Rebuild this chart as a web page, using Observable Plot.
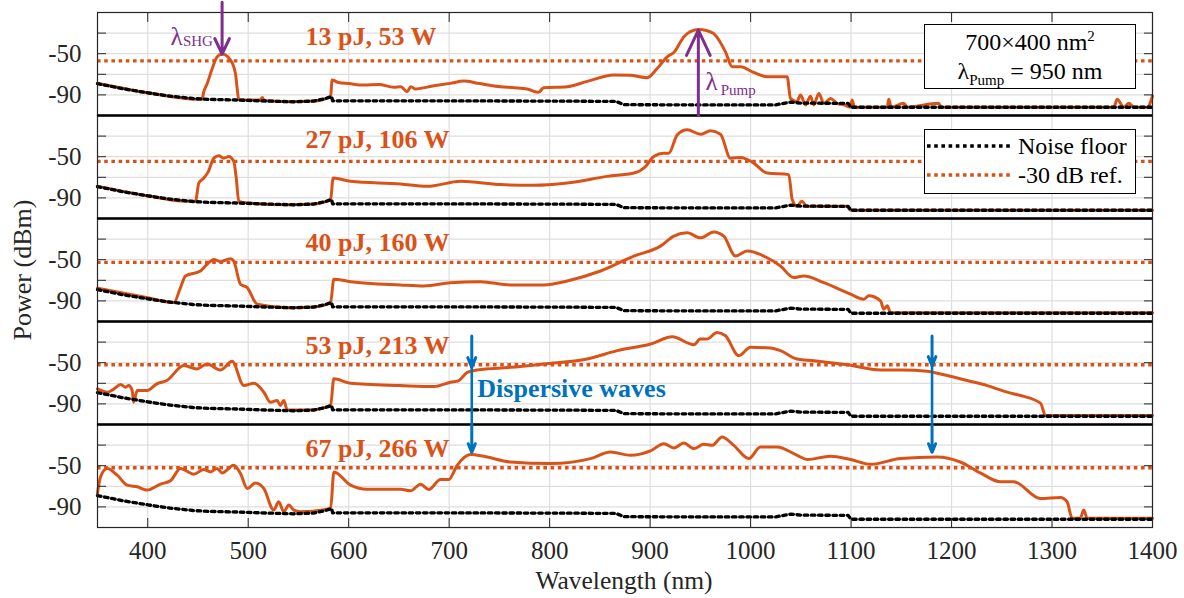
<!DOCTYPE html>
<html><head><meta charset="utf-8">
<script src="https://cdn.jsdelivr.net/npm/d3@7"></script>
<script src="https://cdn.jsdelivr.net/npm/@observablehq/plot@0.6"></script>
<style>
body{margin:0;background:#fff;}
#wrap{position:relative;width:1184px;height:598px;font-family:"Liberation Serif","Times New Roman",serif;color:#262626;overflow:hidden;}
#chart{position:absolute;left:0;top:0;}
.ylab{position:absolute;left:23px;top:270px;transform:translate(-50%,-50%) rotate(-90deg);font-size:26px;white-space:nowrap;}
.xlab{position:absolute;left:624px;top:581px;transform:translate(-50%,-50%);font-size:25.5px;white-space:nowrap;}
.box{position:absolute;left:924px;width:212px;height:65px;border:1.3px solid #000;background:#fff;box-sizing:border-box;font-size:24px;color:#000;}
#box1{top:24px;} #box2{top:129px;}
.row{position:absolute;left:0;right:0;height:28px;line-height:28px;white-space:nowrap;}
.c{text-align:center;}
sup,sub{font-size:15px;line-height:0;}
.sample{position:absolute;left:2px;top:11px;}
.lt{position:absolute;left:93px;top:0;}
</style></head><body>
<div id="wrap">
  <div id="chart"></div>
  <div class="ylab">Power (dBm)</div>
  <div class="xlab">Wavelength (nm)</div>
  <div class="box" id="box1">
    <div class="row c" style="top:3px">700×400 nm<sup>2</sup></div>
    <div class="row c" style="top:32px">λ<sub>Pump</sub> = 950 nm</div>
  </div>
  <div class="box" id="box2">
    <div class="row" style="top:2px"><svg class="sample" width="84" height="6"><line x1="0" x2="84" y1="3" y2="3" stroke="#000" stroke-width="3.3" stroke-dasharray="3.6 3.6"/></svg><span class="lt">Noise floor</span></div>
    <div class="row" style="top:31px"><svg class="sample" width="84" height="6"><line x1="0" x2="84" y1="3" y2="3" stroke="#D95319" stroke-width="3.3" stroke-dasharray="3.6 3.6"/></svg><span class="lt">-30 dB ref.</span></div>
  </div>
</div>
<script>
// ---- data ----
const panels = [0, 1, 2, 3, 4];
const panelLabels = ["13 pJ, 53 W", "27 pJ, 106 W", "40 pJ, 160 W", "53 pJ, 213 W", "67 pJ, 266 W"];
const refLevels = [-57, -54.6, -52.5, -52, -52];
const xTicks = [400, 500, 600, 700, 800, 900, 1000, 1100, 1200, 1300, 1400];
const yLabelTicks = [-90, -50];
const yTicks = [-90, -70, -50, -30];

const noiseNm = [350, 375, 400, 425, 445, 460, 490, 520, 545, 565, 575, 583, 584, 620, 700, 800, 866, 874, 950, 1025, 1040, 1050, 1097, 1100, 1400];
const noiseDb = [-79, -84, -88, -91.5, -93.5, -94.3, -95, -96, -96.7, -96, -94, -91.7, -95.8, -95.8, -95.8, -96, -96.3, -99.5, -99.7, -99.7, -97, -98, -98.2, -102, -102];

const s1Nm = [350, 400, 437, 454, 455.8, 459.2, 464.2, 469.1, 474.1, 482.4, 487.3, 489, 490.6, 500, 512, 514, 516, 540, 565, 582, 583.5, 590, 600, 615, 630, 645, 652, 658, 662, 666.5, 680, 701, 714.6, 730, 751, 765, 777.6, 789, 794, 817.5, 837.4, 863.8, 880, 897, 907, 917, 923.6, 933.5, 940, 948.4, 956, 963.4, 975, 981.7, 990, 1003, 1016.5, 1036.4, 1039.7, 1046, 1049.7, 1054.6, 1059.6, 1062.9, 1067.9, 1073, 1079.5, 1086, 1092.7, 1099.4, 1101, 1103.4, 1136, 1137.5, 1140, 1152.4, 1156, 1187, 1190, 1361.5, 1364.8, 1371.5, 1376.5, 1381.5, 1394.7, 1400];
const s1Db = [-79, -88, -93.4, -94.3, -86.9, -78.9, -64.4, -53, -50.4, -56.2, -69.2, -83.7, -94.8, -95, -95, -92.5, -95.5, -96.6, -96, -91.7, -75.6, -78, -79, -80.5, -80, -82.5, -82, -86.9, -82, -84.3, -82, -78.8, -76.6, -79, -82, -83, -84.3, -87.5, -83, -82, -76.9, -70.7, -71, -73.3, -64.4, -53, -48.9, -33.7, -28.5, -26.6, -27.5, -30.5, -48.2, -62.7, -62.7, -68.2, -72.4, -72.4, -93.4, -96.6, -90.2, -99.7, -91.4, -99.7, -88.6, -98.2, -93.4, -98.2, -99.7, -102, -95, -102, -102, -94.2, -102, -98.2, -102, -98.2, -102, -102, -94.2, -102, -98.2, -102, -102, -91];

const s2Nm = [350, 400, 437.6, 447.5, 450.8, 455.8, 460, 465.8, 470.7, 475.7, 480.7, 485.6, 488, 490.6, 500, 540, 565, 582, 584.5, 601.8, 651.6, 678, 711.5, 751, 784, 817.5, 857.3, 883.8, 895, 903.6, 913.6, 918.6, 927, 937, 950, 960, 970, 980, 990, 1003, 1016.5, 1038, 1041.4, 1046, 1051, 1056, 1096, 1099.4, 1400];
const s2Db = [-78.8, -88, -93.3, -93.3, -75.6, -70.7, -65, -51.4, -49.1, -51.4, -49.7, -54.6, -70, -93.3, -95, -96.6, -96, -91.6, -70.7, -73.9, -76.5, -78.8, -73.9, -77.1, -77.8, -75.6, -69.1, -65.9, -60, -49.7, -46.6, -46.6, -28.8, -23.9, -28.2, -24.9, -28.2, -51.4, -50.7, -56.2, -65.9, -67.4, -91.6, -98.1, -93.3, -98.1, -98.1, -102, -102];

const s3Nm = [350, 400, 426, 432.6, 437.6, 452.5, 459, 465.8, 472.4, 482.4, 485.6, 492.3, 499, 509, 540, 565, 582, 585.2, 601.8, 651.6, 675, 701.3, 731, 761, 794, 817.5, 850.6, 883.8, 910.3, 923.6, 937, 950, 963.4, 973.3, 985, 996.6, 1016.5, 1029.7, 1043, 1053, 1073, 1099.4, 1112.7, 1117.6, 1129.3, 1132.6, 1136, 1139.3, 1400];
const s3Db = [-77.7, -87, -91.6, -77.1, -65.8, -61, -54.5, -49.7, -51.9, -49.1, -51.3, -73.8, -77.1, -93.2, -96.6, -96, -91.6, -69, -71.3, -74.5, -75.5, -72.3, -71.3, -74.5, -74.5, -70.6, -61, -46.5, -36.8, -27.1, -23.9, -28.8, -23, -27.1, -46.5, -41.6, -48.1, -56.1, -67.4, -65.8, -72.3, -83.5, -88.3, -85.1, -90, -98, -94.8, -101.5, -101.5];

const s4Nm = [350, 360, 366.5, 373, 378, 381, 384.5, 386, 389.5, 399.4, 409, 419, 436, 449, 459, 472.4, 484, 495.6, 505.6, 515.6, 522, 528.8, 532, 535.4, 538.8, 560, 582, 585.2, 601.8, 651.6, 684.7, 701.3, 709.6, 718, 728, 761, 794, 837.4, 867.3, 900.5, 922, 943.6, 950, 956.6, 966.6, 975, 988.2, 999.9, 1019.8, 1029.7, 1046, 1063, 1096, 1129.3, 1150, 1175.7, 1189, 1215.6, 1235.5, 1255.4, 1268.6, 1288.5, 1293.5, 1400];
const s4Db = [-75.4, -78.6, -75.4, -71.2, -73.8, -72.2, -77, -88.3, -77, -77, -70.5, -67.3, -52.8, -56, -51.2, -57, -48.7, -72.2, -70, -78.7, -88.3, -86.7, -91.5, -86.7, -95.7, -96, -91.5, -65.7, -70, -72.2, -73.2, -69, -67.3, -59.3, -57, -54.5, -51.2, -46.4, -38.3, -31.9, -24.8, -32.5, -27, -27, -20.6, -23.8, -43.2, -35.1, -35.7, -38.3, -46.4, -48, -51.9, -57, -57, -58.4, -60.9, -67.3, -72.2, -78.6, -81.9, -89.3, -101.2, -101.2];

const s5Nm = [350, 353, 359.6, 369.6, 379.6, 389.5, 399.4, 412.7, 422.6, 432.6, 445.8, 455.8, 462.5, 469, 474, 485.6, 492.3, 499, 507.2, 515.5, 525.4, 530.4, 535.4, 540.4, 545.4, 552, 582, 585.3, 601.8, 618.4, 651.6, 661.5, 671.5, 679.7, 691.4, 699.6, 708, 721.2, 734.5, 761, 800.8, 840.6, 860.6, 880.4, 900.3, 913.6, 923.6, 933.5, 943.5, 953.4, 961.7, 971.6, 983.2, 998.2, 1009.8, 1026.4, 1046.4, 1056.3, 1079.5, 1099.4, 1119.3, 1149.1, 1185.6, 1208.7, 1228.6, 1248.6, 1261.8, 1288.4, 1308.3, 1315, 1320, 1328, 1331.6, 1335, 1400];
const s5Db = [-76.9, -60.9, -52.8, -59.2, -68.9, -70.5, -73.7, -67.9, -64.7, -52.7, -58.3, -53.7, -56, -52.7, -57, -49.6, -57.6, -72.1, -66.7, -72.1, -93.1, -85, -94.7, -88.2, -93.1, -94.7, -91.4, -56, -68.9, -72.8, -72.8, -74.4, -67.9, -73.1, -63.4, -63.4, -49.6, -39.2, -40.9, -46.4, -47.9, -43.1, -36.7, -39.9, -35.7, -28.6, -32.8, -28, -33.4, -29.2, -30.2, -22.2, -30.2, -43.1, -31.9, -31.9, -39.9, -44, -40.8, -44, -48.6, -43.1, -41.5, -46.4, -57, -65.6, -65.6, -81.8, -80.8, -85, -101.1, -101.1, -93, -101.1, -101.1];

const shgNm = 474, shgPeak = -50.5;
const pumpNm = 948, pumpPeak = -27;
const dwNm = [722.5, 1180.6];
const dwTips4 = [-54.5, -53];

// ---- build tables ----
const orange = "#D95319", purple = "#7E2F8E", blue = "#0072BD";
const spectraSrc = [[s1Nm, s1Db], [s2Nm, s2Db], [s3Nm, s3Db], [s4Nm, s4Db], [s5Nm, s5Db]];
const spectra = spectraSrc.flatMap(([xs, ys], p) => xs.map((x, i) => ({panel: p, nm: x, db: ys[i]})));
const noise = panels.flatMap(p => noiseNm.map((x, i) => ({panel: p, nm: x, db: noiseDb[i]})));
const panelRows = panels.map(p => ({panel: p, label: panelLabels[p], ref: refLevels[p]}));
const sepRows = panels.slice(0, 4).map(p => ({panel: p}));
const dwArrows = [
  ...dwNm.map((x, i) => ({panel: 3, x, y1: -24, y2: dwTips4[i]})),
  ...dwNm.map(x => ({panel: 4, x, y1: -10, y2: -37}))
];
const dwStems = dwNm.map((x, i) => ({panel: 3, x, y1: dwTips4[i], y2: -110}));
const blank = () => "";

const chart = Plot.plot({
  width: 1184, height: 598,
  marginLeft: 97, marginRight: 32, marginTop: 10.5, marginBottom: 70.5,
  style: {fontFamily: "'Liberation Serif', 'Times New Roman', serif", fontSize: "25px", color: "#262626", background: "transparent", overflow: "visible"},
  x: {domain: [350, 1400], label: null},
  y: {domain: [-110, -10], label: null},
  fy: {domain: panels, padding: 0, axis: null, label: null},
  marks: [
    Plot.gridX({ticks: xTicks, stroke: "#dedede", strokeOpacity: 1, strokeWidth: 1.2}),
    Plot.gridY({ticks: yTicks, stroke: "#dedede", strokeOpacity: 1, strokeWidth: 1.2}),
    Plot.ruleY(panelRows, {y: "ref", fy: "panel", stroke: orange, strokeWidth: 3.3, strokeDasharray: "3.6 3.6"}),
    Plot.line(spectra, {x: "nm", y: "db", fy: "panel", stroke: orange, strokeWidth: 3, curve: "monotone-x"}),
    Plot.line(noise, {x: "nm", y: "db", fy: "panel", stroke: "#000", strokeWidth: 3.3, strokeDasharray: "3.6 3.6"}),
    Plot.frame({stroke: "#262626", strokeWidth: 1.2}),
    Plot.ruleY(sepRows, {y: -110, fy: "panel", stroke: "#000", strokeWidth: 2.6}),
    // axes
    Plot.axisY({ticks: yLabelTicks, tickSize: 0, tickPadding: 16, tickFormat: d => String(d), fontSize: 25, label: null}),
    Plot.axisY({ticks: yTicks, tickSize: 9, dx: 9, tickFormat: blank, label: null, stroke: "#262626"}),
    Plot.axisY({anchor: "right", ticks: yTicks, tickSize: 9, dx: -9, tickFormat: blank, label: null, stroke: "#262626"}),
    Plot.axisX({ticks: xTicks, tickSize: 0, tickPadding: 14, tickFormat: d => String(d), fontSize: 25, label: null}),
    Plot.axisX({ticks: xTicks, tickSize: 9, dy: -9, tickFormat: blank, label: null, stroke: "#262626"}),
    Plot.axisX({anchor: "top", ticks: xTicks, tickSize: 9, dy: 9, tickFormat: blank, label: null, stroke: "#262626"}),
    // panel labels
    Plot.text(panelRows, {x: 557, y: -33.5, fy: "panel", text: "label", textAnchor: "start", fill: orange, fontWeight: "bold", fontSize: 26}),
    // lambda SHG
    Plot.arrow([{panel: 0}], {x1: shgNm, x2: shgNm, y1: 0, y2: shgPeak, fy: "panel", stroke: purple, strokeWidth: 3, headLength: 14, headAngle: 50}),
    Plot.text([{panel: 0}], {x: 434.6, y: -33.5, fy: "panel", text: () => "λ", textAnchor: "end", fill: purple, fontSize: 25}),
    Plot.text([{panel: 0}], {x: 435, y: -38, fy: "panel", text: () => "SHG", textAnchor: "start", fill: purple, fontSize: 15}),
    // lambda pump
    Plot.arrow([{panel: 0}], {x1: pumpNm, x2: pumpNm, y1: -110, y2: pumpPeak, fy: "panel", stroke: purple, strokeWidth: 3, headLength: 14, headAngle: 50}),
    Plot.text([{panel: 0}], {x: 955, y: -77, fy: "panel", text: () => "λ", textAnchor: "start", fill: purple, fontSize: 25}),
    Plot.text([{panel: 0}], {x: 970.3, y: -85, fy: "panel", text: () => "Pump", textAnchor: "start", fill: purple, fontSize: 15}),
    // dispersive waves
    Plot.ruleX(dwStems, {x: "x", y1: "y1", y2: "y2", fy: "panel", stroke: blue, strokeWidth: 2.6}),
    Plot.arrow(dwArrows, {x1: "x", x2: "x", y1: "y1", y2: "y2", fy: "panel", stroke: blue, strokeWidth: 3, headLength: 16, headAngle: 45}),
    Plot.text([{panel: 3}], {x: 728, y: -75, fy: "panel", text: () => "Dispersive waves", textAnchor: "start", fill: blue, fontWeight: "bold", fontSize: 26})
  ]
});
document.getElementById("chart").append(chart);
</script>
</body></html>
